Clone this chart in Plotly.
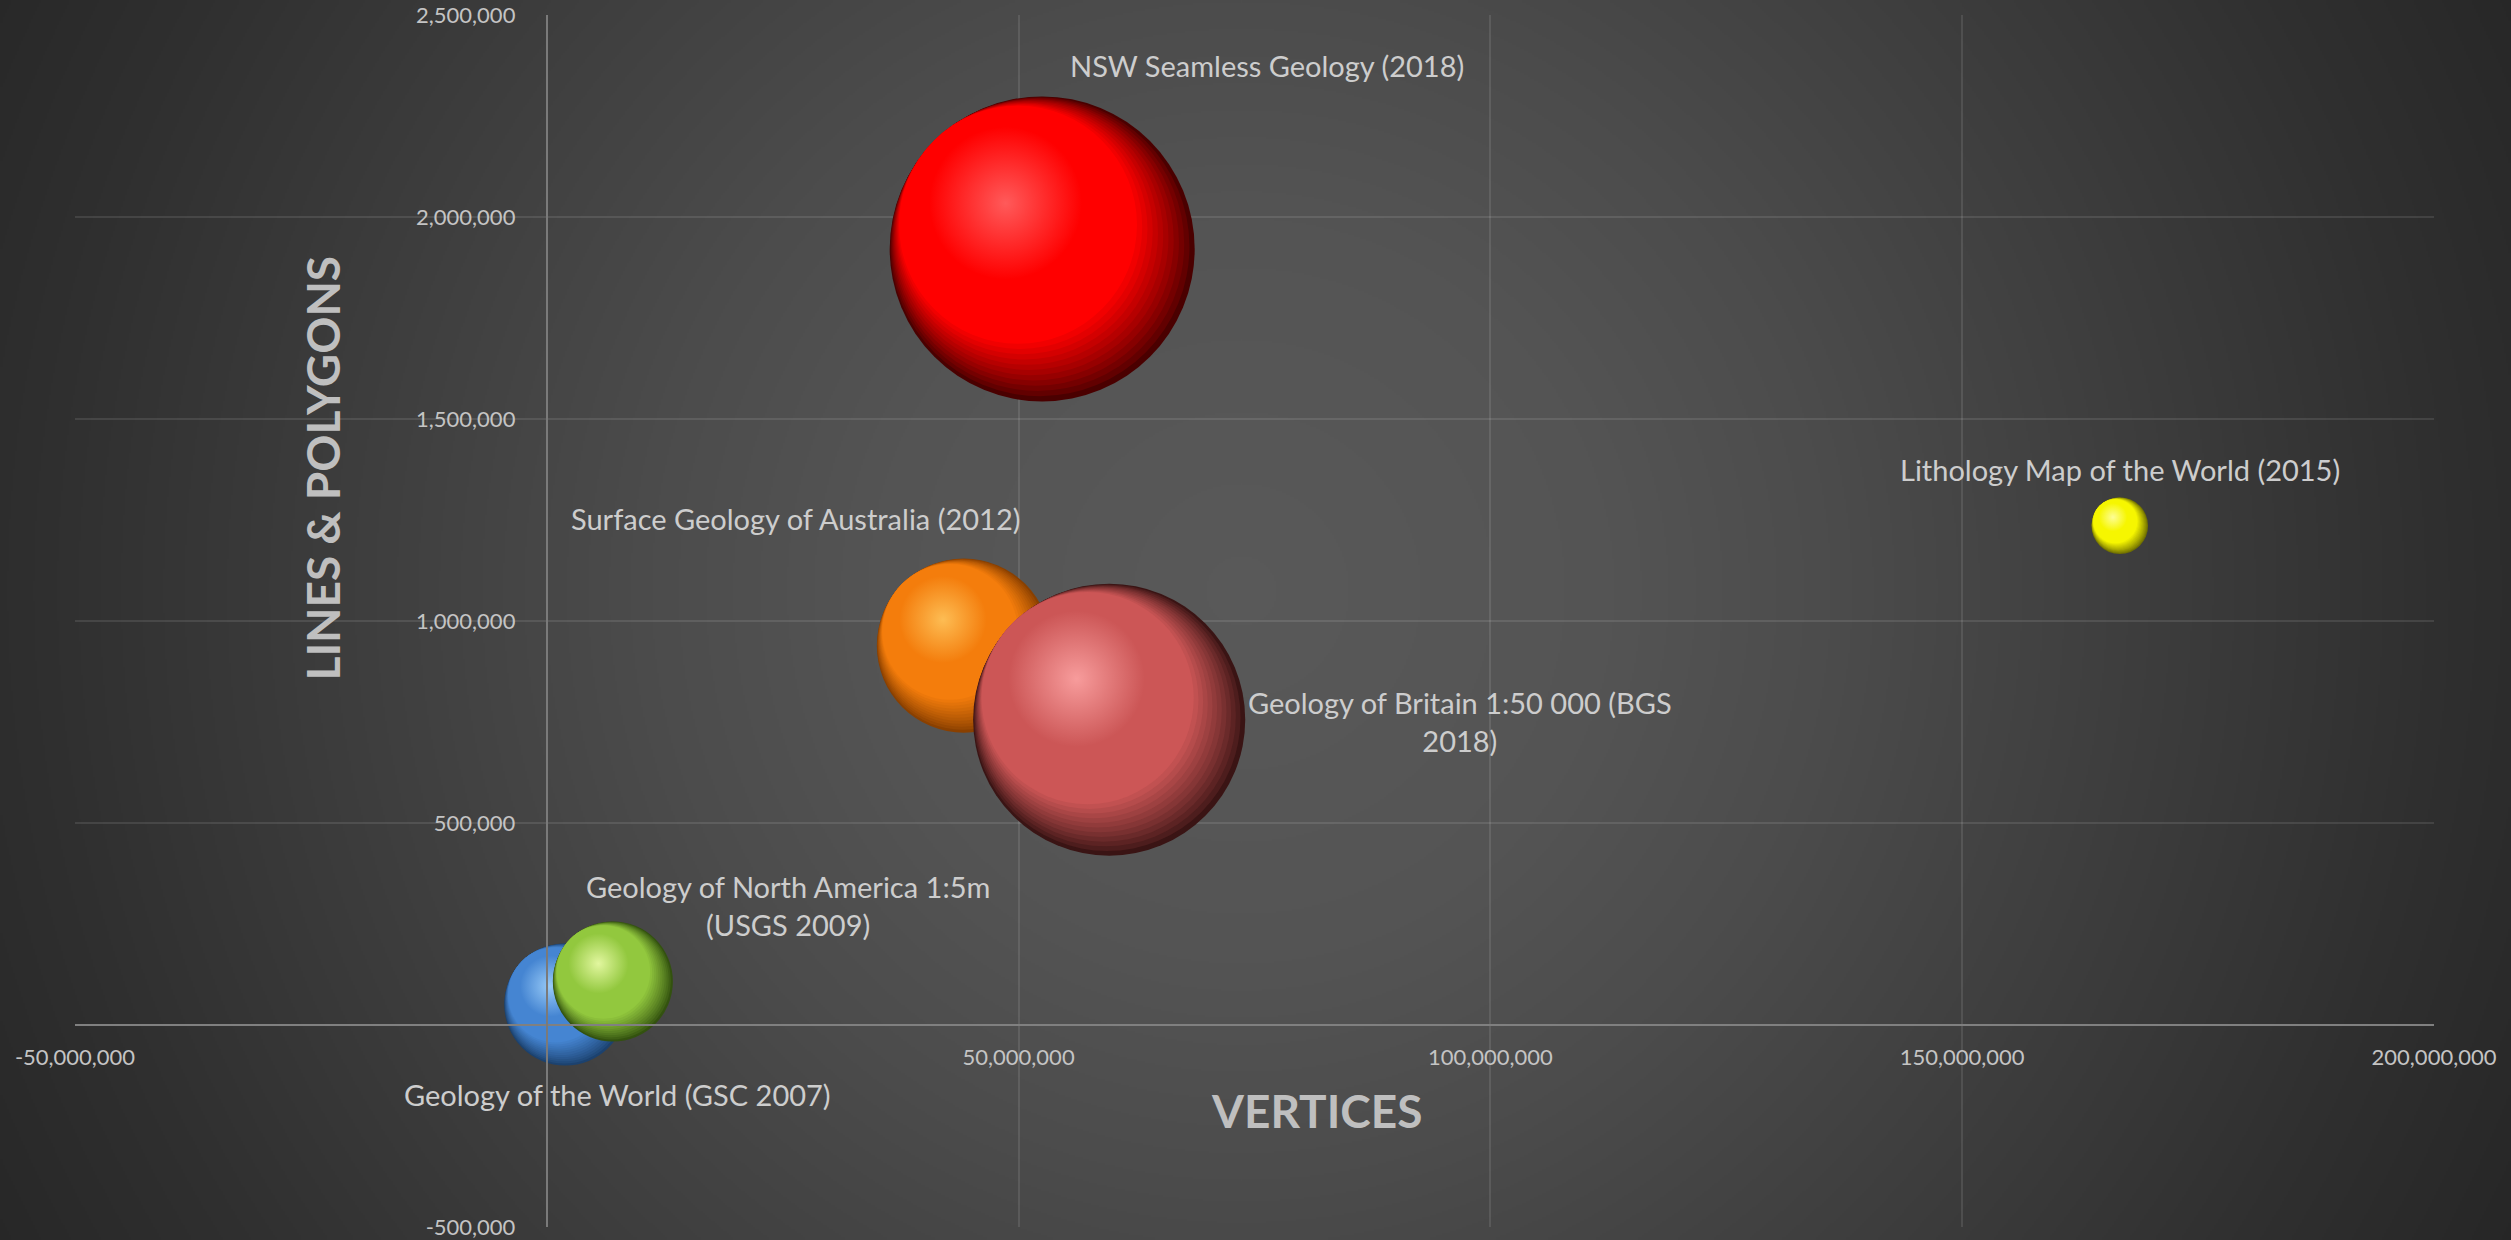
import base64
import struct
import zlib
import numpy as np
import plotly.graph_objects as go

# ---------------- data ----------------
names = [
    "Geology of the World (GSC 2007)",
    "Geology of North America 1:5m<br>(USGS 2009)",
    "Surface Geology of Australia (2012)",
    "Geology of Britain 1:50 000 (BGS<br>2018)",
    "NSW Seamless Geology (2018)",
    "Lithology Map of the World (2015)",
]
vertices = [1_960_000, 7_000_000, 44_200_000, 59_600_000, 52_500_000, 166_700_000]
lines_polygons = [50_700, 107_600, 939_000, 755_800, 1_921_000, 1_235_800]
bubble_size = [14.9, 14.4, 30.3, 74.0, 93.0, 3.2]

x_tick_vals = [-50_000_000, 0, 50_000_000, 100_000_000, 150_000_000, 200_000_000]
x_tick_text = ["-50,000,000", "", "50,000,000", "100,000,000", "150,000,000", "200,000,000"]
y_tick_vals = [-500_000, 0, 500_000, 1_000_000, 1_500_000, 2_000_000, 2_500_000]
y_tick_text = ["-500,000", "", "500,000", "1,000,000", "1,500,000", "2,000,000", "2,500,000"]

x_title = "VERTICES"
y_title = "LINES & POLYGONS"

# ---------------- styles ----------------
# (main, dark shade, highlight) per bubble
palette = [
    ("#4585d2", "#1c426f", "#a8d8ff"),
    ("#92c83e", "#33520f", "#f0ffb0"),
    ("#f47d0c", "#8a4000", "#ffc860"),
    ("#cc5656", "#3a1414", "#ffa8a8"),
    ("#ff0000", "#4a0000", "#ff6a6a"),
    ("#f6f600", "#707000", "#ffffb0"),
]
# label offsets from bubble centre in pixels (dx right, dy up)
label_offsets = [(52, -90), (175, 76), (-168, 127), (351, -2), (225, 183), (0, 56)]

W, H = 2511, 1240
ML, MR, MT, MB = 75, 77, 15, 13
PW, PH = W - ML - MR, H - MT - MB
X_RANGE = [-50_000_000, 200_000_000]
Y_RANGE = [-500_000, 2_500_000]
MAX_DIAM = 305.0
N_SHADE = 12

FONT = "Lato"
TEXT_COL = "#cdcdcd"
TICK_COL = "#c4c4c4"
TITLE_COL = "#bfbfbf"


def hex_rgb(h):
    h = h.lstrip("#")
    return tuple(int(h[i:i + 2], 16) for i in (0, 2, 4))


def mix(a, b, t):
    ra, rb = hex_rgb(a), hex_rgb(b)
    return "rgb(%d,%d,%d)" % tuple(round(ra[i] * (1 - t) + rb[i] * t) for i in range(3))


def rgba(h, a):
    r, g, b = hex_rgb(h)
    return "rgba(%d,%d,%d,%.3f)" % (r, g, b, a)


# ---------------- background radial gradient ----------------
def gradient_uri():
    sw, sh = W // 2, H // 2
    yy, xx = np.mgrid[0:sh, 0:sw]
    d = np.hypot(xx * 2 - 1240.0, yy * 2 - 590.0)
    v = np.interp(d, [0, 360, 590, 1195, 1430], [89, 84, 75.5, 47, 38])
    img = np.clip(np.round(v), 0, 255).astype(np.uint8)
    raw = b"".join(b"\x00" + img[r].tobytes() for r in range(sh))

    def chunk(t, data):
        c = struct.pack(">I", len(data)) + t + data
        return c + struct.pack(">I", zlib.crc32(t + data) & 0xFFFFFFFF)

    png = (b"\x89PNG\r\n\x1a\n"
           + chunk(b"IHDR", struct.pack(">IIBBBBB", sw, sh, 8, 0, 0, 0, 0))
           + chunk(b"IDAT", zlib.compress(raw, 9))
           + chunk(b"IEND", b""))
    return "data:image/png;base64," + base64.b64encode(png).decode()


# ---------------- figure ----------------
fig = go.Figure()

sizeref = max(bubble_size) / MAX_DIAM ** 2
px_x = PW / (X_RANGE[1] - X_RANGE[0])
px_y = PH / (Y_RANGE[1] - Y_RANGE[0])

for i in range(len(names)):
    x0, y0 = vertices[i], lines_polygons[i]
    d = float(np.sqrt(bubble_size[i] / sizeref))
    main, dark, hl = palette[i]
    # stacked shading discs, shrinking towards the upper-left
    for k in range(N_SHADE):
        t = k / (N_SHADE - 1)
        s = d * (1 - 0.22 * t)
        off = (d - s) / 2 * 0.72
        col = mix(dark, main, t ** 0.85)
        fig.add_trace(go.Scatter(
            x=[x0 - off / px_x], y=[y0 + off / px_y], mode="markers",
            hoverinfo="skip", showlegend=False,
            marker=dict(size=s, color=col, line=dict(width=0)),
        ))
    # soft body glow
    fig.add_trace(go.Scatter(
        x=[x0 - 0.08 * d / px_x], y=[y0 + 0.08 * d / px_y], mode="markers",
        hoverinfo="skip", showlegend=False,
        marker=dict(size=0.75 * d, color=rgba(main, 0.0), line=dict(width=0),
                    gradient=dict(type="radial", color=rgba(main, 0.9))),
    ))
    # highlight
    fig.add_trace(go.Scatter(
        x=[x0 - 0.12 * d / px_x], y=[y0 + 0.15 * d / px_y], mode="markers",
        hoverinfo="skip", showlegend=False,
        marker=dict(size=0.5 * d, color=rgba(hl, 0.0), line=dict(width=0),
                    gradient=dict(type="radial", color=rgba(hl, 0.85))),
    ))

for i, name in enumerate(names):
    dx, dy = label_offsets[i]
    fig.add_annotation(
        x=vertices[i], y=lines_polygons[i], xref="x", yref="y",
        text=name, showarrow=False, xshift=dx, yshift=dy, align="center",
        font=dict(family=FONT, size=29, color=TEXT_COL),
    )

fig.add_annotation(
    x=(1316 - ML) / PW, y=1 - (1140 - MT) / PH, xref="paper", yref="paper",
    text=x_title, showarrow=False,
    font=dict(family=FONT, size=46, color=TITLE_COL, weight="bold"),
)
fig.add_annotation(
    x=(292 - ML) / PW, y=1 - (468 - MT) / PH, xref="paper", yref="paper",
    text=y_title, showarrow=False, textangle=-90,
    font=dict(family=FONT, size=46, color=TITLE_COL, weight="bold"),
)

fig.add_layout_image(dict(
    source=gradient_uri(), xref="paper", yref="paper",
    x=-ML / PW, y=1 + MT / PH, sizex=W / PW, sizey=H / PH,
    xanchor="left", yanchor="top", sizing="stretch", layer="below",
))

grid_col = "rgba(255,255,255,0.10)"
fig.update_layout(
    width=W, height=H,
    margin=dict(l=ML, r=MR, t=MT, b=MB, pad=0),
    paper_bgcolor="#333333",
    plot_bgcolor="rgba(0,0,0,0)",
    showlegend=False,
    font=dict(family=FONT, color=TICK_COL),
    xaxis=dict(
        range=X_RANGE, tickvals=x_tick_vals, ticktext=x_tick_text,
        showgrid=True, gridcolor=grid_col, gridwidth=2,
        zeroline=False, showline=True, linecolor="#808080", linewidth=2,
        anchor="free", position=(0 - Y_RANGE[0]) / (Y_RANGE[1] - Y_RANGE[0]),
        ticks="", ticklabelstandoff=13, automargin=False,
        tickfont=dict(family=FONT, size=22, color=TICK_COL),
    ),
    yaxis=dict(
        range=Y_RANGE, tickvals=y_tick_vals, ticktext=y_tick_text,
        showgrid=True, gridcolor=grid_col, gridwidth=2,
        zeroline=False, showline=True, linecolor="#7a7a7a", linewidth=2,
        anchor="free", position=(0 - X_RANGE[0]) / (X_RANGE[1] - X_RANGE[0]),
        ticks="", ticklabelstandoff=26, automargin=False,
        tickfont=dict(family=FONT, size=22, color=TICK_COL),
    ),
)

fig.write_html("out.html")
